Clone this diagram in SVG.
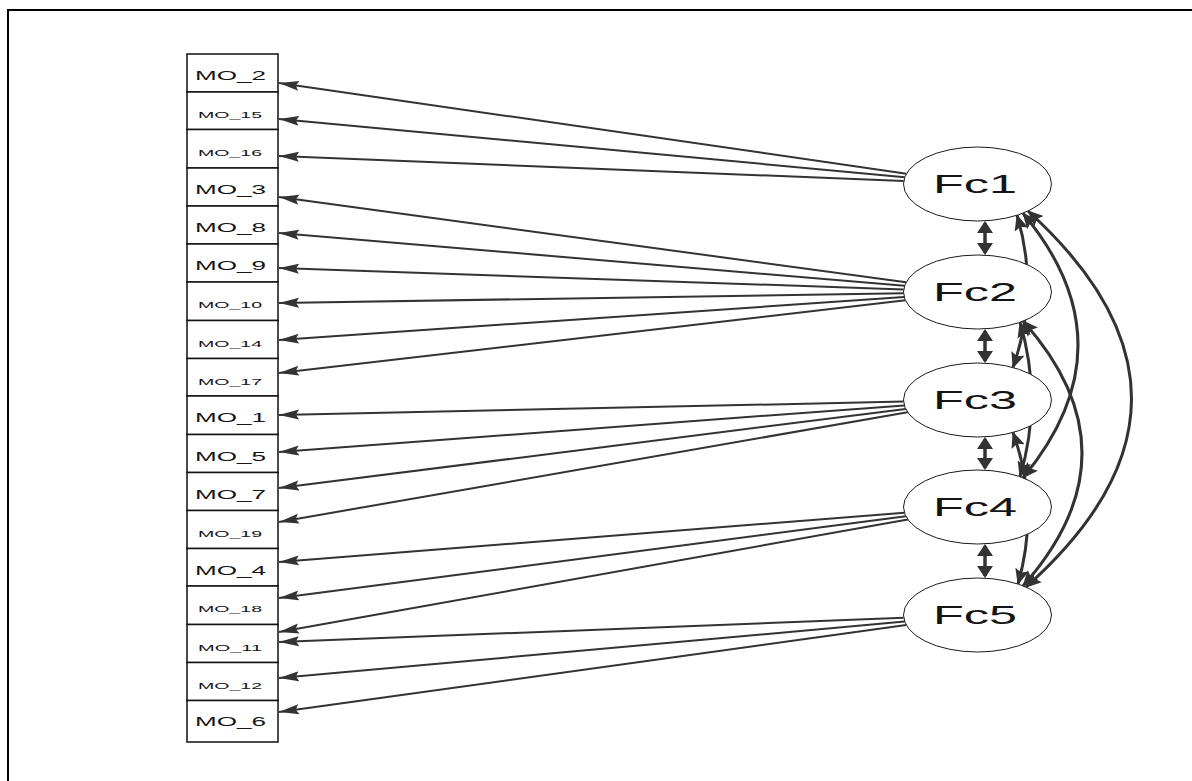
<svg xmlns="http://www.w3.org/2000/svg" width="1192" height="781" viewBox="0 0 1192 781">
  <style>
    .frame { fill: none; stroke: #000; stroke-width: 2; }
    .ind rect { fill: #fff; stroke: #111; stroke-width: 1.5; }
    .ind text { font-family: "Liberation Sans", Arial, sans-serif; fill: #141414; }
    .ind text.big { font-size: 12.5px; }
    .ind text.sm { font-size: 9.5px; }
    .lat ellipse { fill: #fff; stroke: #1a1a1a; stroke-width: 1; }
    .lat text { font-family: "Liberation Sans", Arial, sans-serif; font-size: 25px; fill: #141414; }
    .load { fill: none; stroke: #333; stroke-width: 2; marker-end: url(#ah); }
    .cov { fill: none; stroke: #333; stroke-width: 3.5; marker-start: url(#dh); marker-end: url(#dh); }
    .ccov { fill: none; stroke: #333; stroke-width: 3; marker-start: url(#ch); marker-end: url(#ch); }
  </style>
  <defs>
    <!-- loading arrowhead -->
    <marker id="ah" viewBox="0 -5.5 20 11" refX="20" refY="0" markerWidth="20" markerHeight="11" markerUnits="userSpaceOnUse" orient="auto">
      <path d="M20,0 L0,-5 L3,0 L0,5 Z" fill="#333"/>
    </marker>
    <!-- short covariance arrowhead -->
    <marker id="dh" viewBox="0 -8 12 16" refX="10" refY="0" markerWidth="12" markerHeight="16" markerUnits="userSpaceOnUse" orient="auto-start-reverse">
      <path d="M12,0 L0,-8 L0,8 Z" fill="#333"/>
    </marker>
    <!-- curved covariance arrowhead -->
    <marker id="ch" viewBox="0 -7 16 14" refX="15" refY="0" markerWidth="16" markerHeight="14" markerUnits="userSpaceOnUse" orient="auto-start-reverse">
      <path d="M16,0 L0,-7 L3,0 L0,7 Z" fill="#333"/>
    </marker>
  </defs>

  <rect width="1192" height="781" fill="#fff"/>
  <path class="frame" d="M8,781 L8,10 L1192,10"/>

  <!-- connectors -->
  <g id="connectors">
    <!-- Fc1 loadings -->
    <path class="load" d="M906.4,173.7 L279,83"/>
    <path class="load" d="M904.7,177.2 L279,119"/>
    <path class="load" d="M903.7,181 L279,156"/>
    <!-- Fc2 loadings -->
    <path class="load" d="M906.1,282.3 L279,197"/>
    <path class="load" d="M904.5,285.8 L279,233"/>
    <path class="load" d="M903.7,289.5 L279,268"/>
    <path class="load" d="M903.5,293.2 L279,303"/>
    <path class="load" d="M904.2,297 L279,340"/>
    <path class="load" d="M905.4,300.3 L279,373"/>
    <!-- Fc3 loadings -->
    <path class="load" d="M903.6,401.6 L279,415"/>
    <path class="load" d="M904.3,405.4 L279,452"/>
    <path class="load" d="M905.7,409 L279,488"/>
    <path class="load" d="M907.6,412.2 L279,522"/>
    <!-- Fc4 loadings -->
    <path class="load" d="M904.4,512.7 L279,562"/>
    <path class="load" d="M905.9,516.3 L279,598"/>
    <path class="load" d="M907.8,519.5 L279,632"/>
    <!-- Fc5 loadings -->
    <path class="load" d="M903.7,617.8 L279,642"/>
    <path class="load" d="M904.7,621.6 L279,678"/>
    <path class="load" d="M906.2,624.9 L279,712"/>

    <!-- adjacent covariances -->
    <path class="cov" d="M985,223 L985,253"/>
    <path class="cov" d="M985,331 L985,361"/>
    <path class="cov" d="M985,439 L985,468"/>
    <path class="cov" d="M985,546 L985,576"/>

    <!-- curved covariances -->
    <path class="ccov" d="M1017,215.3 Q1040,291 1013,367.5"/>
    <path class="ccov" d="M1020,322.3 Q1043,400 1020,476.7"/>
    <path class="ccov" d="M1013,432.5 Q1040,507 1018,584"/>
    <path class="ccov" d="M1023,213.2 Q1133,345 1023,477.8"/>
    <path class="ccov" d="M1023,321 Q1141,453 1023,586"/>
    <path class="ccov" d="M1028,211 Q1236,400 1026,587"/>
  </g>

  <!-- indicator boxes -->
  <g id="MO_2" class="ind"><rect x="187" y="54" width="91" height="38"/><text class="big" x="195" y="80" textLength="71" lengthAdjust="spacingAndGlyphs">MO_2</text></g>
  <g id="MO_15" class="ind"><rect x="187" y="92" width="91" height="37.5"/><text class="sm" x="198" y="118" textLength="64" lengthAdjust="spacingAndGlyphs">MO_15</text></g>
  <g id="MO_16" class="ind"><rect x="187" y="129.5" width="91" height="38.5"/><text class="sm" x="198" y="155.5" textLength="64" lengthAdjust="spacingAndGlyphs">MO_16</text></g>
  <g id="MO_3" class="ind"><rect x="187" y="168" width="91" height="38"/><text class="big" x="195" y="194" textLength="71" lengthAdjust="spacingAndGlyphs">MO_3</text></g>
  <g id="MO_8" class="ind"><rect x="187" y="206" width="91" height="38"/><text class="big" x="195" y="232" textLength="71" lengthAdjust="spacingAndGlyphs">MO_8</text></g>
  <g id="MO_9" class="ind"><rect x="187" y="244" width="91" height="38"/><text class="big" x="195" y="270" textLength="71" lengthAdjust="spacingAndGlyphs">MO_9</text></g>
  <g id="MO_10" class="ind"><rect x="187" y="282" width="91" height="38.5"/><text class="sm" x="198" y="308" textLength="64" lengthAdjust="spacingAndGlyphs">MO_10</text></g>
  <g id="MO_14" class="ind"><rect x="187" y="320.5" width="91" height="38"/><text class="sm" x="198" y="346.5" textLength="64" lengthAdjust="spacingAndGlyphs">MO_14</text></g>
  <g id="MO_17" class="ind"><rect x="187" y="358.5" width="91" height="37.5"/><text class="sm" x="198" y="384.5" textLength="64" lengthAdjust="spacingAndGlyphs">MO_17</text></g>
  <g id="MO_1" class="ind"><rect x="187" y="396" width="91" height="38.5"/><text class="big" x="195" y="422" textLength="71" lengthAdjust="spacingAndGlyphs">MO_1</text></g>
  <g id="MO_5" class="ind"><rect x="187" y="434.5" width="91" height="38"/><text class="big" x="195" y="460.5" textLength="71" lengthAdjust="spacingAndGlyphs">MO_5</text></g>
  <g id="MO_7" class="ind"><rect x="187" y="472.5" width="91" height="38"/><text class="big" x="195" y="498.5" textLength="71" lengthAdjust="spacingAndGlyphs">MO_7</text></g>
  <g id="MO_19" class="ind"><rect x="187" y="510.5" width="91" height="38"/><text class="sm" x="198" y="536.5" textLength="64" lengthAdjust="spacingAndGlyphs">MO_19</text></g>
  <g id="MO_4" class="ind"><rect x="187" y="548.5" width="91" height="37.5"/><text class="big" x="195" y="574.5" textLength="71" lengthAdjust="spacingAndGlyphs">MO_4</text></g>
  <g id="MO_18" class="ind"><rect x="187" y="586" width="91" height="38.5"/><text class="sm" x="198" y="612" textLength="64" lengthAdjust="spacingAndGlyphs">MO_18</text></g>
  <g id="MO_11" class="ind"><rect x="187" y="624.5" width="91" height="38"/><text class="sm" x="198" y="650.5" textLength="64" lengthAdjust="spacingAndGlyphs">MO_11</text></g>
  <g id="MO_12" class="ind"><rect x="187" y="662.5" width="91" height="38"/><text class="sm" x="198" y="688.5" textLength="64" lengthAdjust="spacingAndGlyphs">MO_12</text></g>
  <g id="MO_6" class="ind"><rect x="187" y="700.5" width="91" height="41.5"/><text class="big" x="195" y="725.5" textLength="71" lengthAdjust="spacingAndGlyphs">MO_6</text></g>

  <!-- latent factors -->
  <g id="Fc1" class="lat"><ellipse cx="977.5" cy="184" rx="74" ry="37"/><text x="933" y="193" textLength="84" lengthAdjust="spacingAndGlyphs">Fc1</text></g>
  <g id="Fc2" class="lat"><ellipse cx="977.5" cy="292" rx="74" ry="37"/><text x="933" y="301" textLength="84" lengthAdjust="spacingAndGlyphs">Fc2</text></g>
  <g id="Fc3" class="lat"><ellipse cx="977.5" cy="400" rx="74" ry="37"/><text x="933" y="409" textLength="84" lengthAdjust="spacingAndGlyphs">Fc3</text></g>
  <g id="Fc4" class="lat"><ellipse cx="977.5" cy="507" rx="74" ry="37"/><text x="933" y="516" textLength="84" lengthAdjust="spacingAndGlyphs">Fc4</text></g>
  <g id="Fc5" class="lat"><ellipse cx="977.5" cy="615" rx="74" ry="37"/><text x="933" y="624" textLength="84" lengthAdjust="spacingAndGlyphs">Fc5</text></g>
</svg>
